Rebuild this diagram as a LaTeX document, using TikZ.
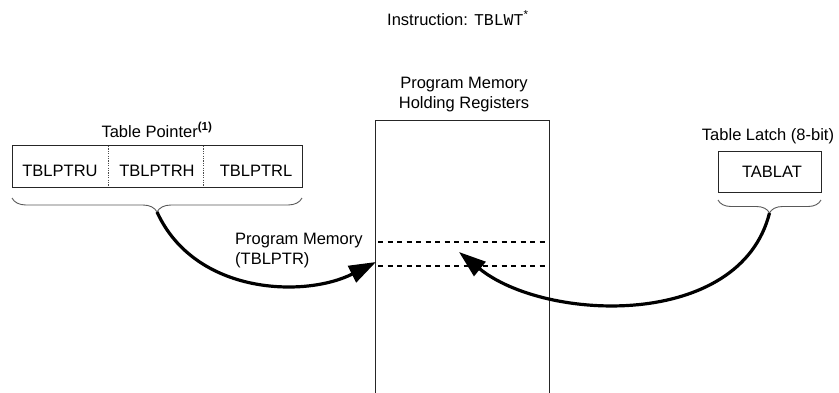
\documentclass[tikz,border=0pt]{standalone}
\usepackage{fontspec}
\setmainfont{Liberation Sans}
\setmonofont{Liberation Mono}
\usetikzlibrary{arrows.meta,decorations.pathreplacing}
\begin{document}
\begin{tikzpicture}[x=1pt,y=-1pt,
  lbl/.style={inner sep=0pt,font=\fontsize{16.5}{20}\selectfont},
  frame/.style={draw=black!85,line width=0.9pt},
  divider/.style={draw=black!70,line width=1pt,dash pattern=on 1.2pt off 1.2pt},
  rowline/.style={line width=2.2pt,dash pattern=on 5pt off 4.5pt},
  bracket/.style={draw=black!65,line width=0.9pt,decorate,
    decoration={brace,mirror,amplitude=#1}},
  flow/.style={line width=3.2pt,-{Triangle[length=27pt,width=18pt]}}]
\useasboundingbox (0,0) rectangle (839,392);

% instruction heading
\node[lbl,anchor=base west] (instr) at (387,25)
  {Instruction: \texttt{TBLWT}\textsuperscript{*}};

% holding registers block (open towards the bottom)
\node[lbl,anchor=base,align=center] (pmhr) at (464,108)
  {Program Memory\\Holding Registers};
\coordinate (hbl) at (375,395);
\coordinate (htl) at (375,120);
\coordinate (htr) at (549,120);
\coordinate (hbr) at (549,395);
\draw[frame] (hbl) -- (htl) -- (htr) -- (hbr);
\coordinate (r1a) at (378,242);
\coordinate (r1b) at (548,242);
\coordinate (r2a) at (378,266);
\coordinate (r2b) at (548,266);
\draw[rowline] (r1a) -- (r1b);
\draw[rowline] (r2a) -- (r2b);

% table pointer
\node[lbl,anchor=base] (tplabel) at (157,137)
  {Table Pointer\textsuperscript{\textbf{(1)}}};
\coordinate (tpa) at (12,145);
\coordinate (tpb) at (302,187);
\draw[frame] (tpa) rectangle (tpb);
\coordinate (d1a) at (108,146);
\coordinate (d1b) at (108,186);
\coordinate (d2a) at (203,146);
\coordinate (d2b) at (203,186);
\draw[divider] (d1a) -- (d1b);
\draw[divider] (d2a) -- (d2b);
\node[lbl,anchor=base] (tblu) at (60,176) {TBLPTRU};
\node[lbl,anchor=base] (tblh) at (157,176) {TBLPTRH};
\node[lbl,anchor=base] (tbll) at (256,176) {TBLPTRL};
\coordinate (tpbl) at (12,198);
\coordinate (tpbr) at (302,198);
\draw[bracket=14pt] (tpbl) -- (tpbr);
\coordinate (tptip) at (157,212);

% table latch
\node[lbl,anchor=base] (tllabel) at (768,140) {Table Latch (8-bit)};
\coordinate (tla) at (718,151);
\coordinate (tlb) at (821,192);
\draw[frame] (tla) rectangle (tlb);
\node[lbl,anchor=base] (tablat) at (772,177) {TABLAT};
\coordinate (tlbl) at (718,200);
\coordinate (tlbr) at (821,200);
\draw[bracket=13pt] (tlbl) -- (tlbr);
\coordinate (tltip) at (769.5,213);

% transfer arrows
\node[lbl,anchor=base west,align=left] (pmaddr) at (235,264)
  {Program Memory\\(TBLPTR)};
\coordinate (pmend) at (376,262);
\coordinate (latend) at (459,252);
\draw[flow] (tptip) .. controls (195,295) and (305,298) .. (pmend);
\draw[flow] (tltip) .. controls (740,330) and (545,322) .. (latend);
\end{tikzpicture}
\end{document}
